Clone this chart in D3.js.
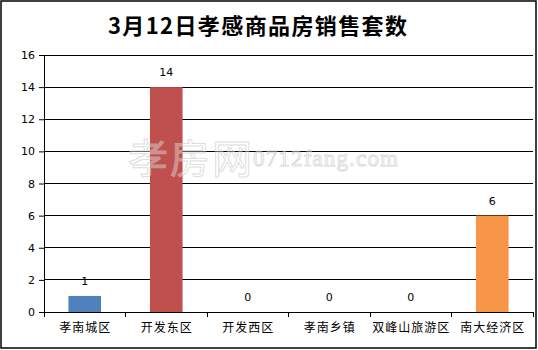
<!DOCTYPE html>
<html>
<head>
<meta charset="utf-8">
<script src="https://cdn.jsdelivr.net/npm/d3@7"></script>
<style>
  body { margin: 0; background: #fff; }
  svg { display: block; }
  text { font-family: 'Noto Sans CJK SC', sans-serif; }
</style>
</head>
<body>
<svg class="chart" width="538" height="350"></svg>
<script>
// chart data
var title = '3月12日孝感商品房销售套数';
var categories = ['孝南城区', '开发东区', '开发西区', '孝南乡镇', '双峰山旅游区', '南大经济区'];
var values = [1, 14, 0, 0, 0, 6];
var colors = ['#4F81BD', '#C0504D', '#9BBB59', '#8064A2', '#4BACC6', '#F79646'];
var yTicks = [0, 2, 4, 6, 8, 10, 12, 14, 16];

var margin = {top: 55, right: 5, bottom: 38, left: 44};
var svg = d3.select('.chart');
var width = 538 - margin.left - margin.right;
var height = 350 - margin.top - margin.bottom;

// outer frame
svg.append('rect')
  .attr('x', 1).attr('y', 1)
  .attr('width', 535).attr('height', 347)
  .style('fill', '#fff')
  .style('stroke', '#000')
  .style('stroke-width', 1.5);

// title
svg.append('text')
  .attr('x', 108)
  .attr('y', 34)
  .attr('textLength', 299)
  .style('font-size', '22px')
  .style('font-weight', 'bold')
  .text(title);

var g = svg.append('g')
  .attr('transform', 'translate(' + margin.left + ',' + margin.top + ')');

var x = d3.scaleBand().domain(categories).range([0, width]);
var y = d3.scaleLinear().domain([0, 16]).range([height, 0]);

// gridlines + y axis
var yAxis = g.append('g')
  .call(d3.axisLeft(y).tickValues(yTicks).tickSize(5).tickPadding(4));
yAxis.select('.domain').remove();
yAxis.selectAll('line').attr('stroke', '#000');
yAxis.selectAll('text')
  .style('font-family', "'DejaVu Sans', sans-serif")
  .style('font-size', '11px')
  .attr('fill', '#000');

g.selectAll('.grid')
  .data(yTicks).enter()
  .append('line')
  .attr('class', 'grid')
  .attr('x1', 0).attr('x2', width)
  .attr('y1', function(d) { return y(d); })
  .attr('y2', function(d) { return y(d); })
  .style('stroke', '#000')
  .style('shape-rendering', 'crispEdges');

g.append('line')
  .attr('x1', 0).attr('x2', 0)
  .attr('y1', 0).attr('y2', height)
  .style('stroke', '#000')
  .style('shape-rendering', 'crispEdges');

// bars
var barW = x.bandwidth() * 0.4;
g.selectAll('.bar')
  .data(values).enter()
  .append('rect')
  .attr('class', 'bar')
  .attr('x', function(d, i) { return x(categories[i]) + (x.bandwidth() - barW) / 2; })
  .attr('y', function(d) { return y(d); })
  .attr('width', barW)
  .attr('height', function(d) { return height - y(d); })
  .style('fill', function(d, i) { return colors[i]; });

// value labels
g.selectAll('.val')
  .data(values).enter()
  .append('text')
  .attr('class', 'val')
  .attr('x', function(d, i) { return x(categories[i]) + x.bandwidth() / 2; })
  .attr('y', function(d) { return y(d) - 11; })
  .attr('text-anchor', 'middle')
  .style('font-family', "'DejaVu Sans', sans-serif")
  .style('font-size', '11px')
  .text(function(d) { return d; });

// x axis: baseline, boundary ticks, category labels
g.append('line')
  .attr('x1', 0).attr('x2', width)
  .attr('y1', height).attr('y2', height)
  .style('stroke', '#000')
  .style('shape-rendering', 'crispEdges');

var bounds = categories.map(function(c) { return x(c); }).concat([width]);
g.selectAll('.xtick')
  .data(bounds).enter()
  .append('line')
  .attr('x1', function(d) { return d; })
  .attr('x2', function(d) { return d; })
  .attr('y1', height).attr('y2', height + 5)
  .style('stroke', '#000')
  .style('shape-rendering', 'crispEdges');

var xAxis = g.append('g')
  .attr('transform', 'translate(0,' + height + ')')
  .call(d3.axisBottom(x).tickSize(0).tickPadding(11));
xAxis.select('.domain').remove();
xAxis.selectAll('text')
  .style('font-family', "'Noto Sans CJK SC', sans-serif")
  .style('font-size', '12px')
  .style('letter-spacing', '1px')
  .attr('dx', 0.5)
  .attr('fill', '#000');

// watermark
var wm = svg.append('g').style('opacity', 0.6);
wm.append('text')
  .attr('x', 128).attr('y', 173)
  .attr('textLength', 124)
  .style('font-size', '40px')
  .style('fill', '#fff')
  .style('fill-opacity', 0.6)
  .style('stroke', '#c8c8c8')
  .style('stroke-width', 1)
  .text('孝房网');
wm.append('text')
  .attr('x', 253).attr('y', 166)
  .attr('textLength', 145)
  .style('font-family', "'Liberation Serif', serif")
  .style('font-size', '23px')
  .style('fill', '#fff')
  .style('fill-opacity', 0.6)
  .style('stroke', '#c8c8c8')
  .style('stroke-width', 1)
  .text('0712fang.com');
</script>
</body>
</html>
